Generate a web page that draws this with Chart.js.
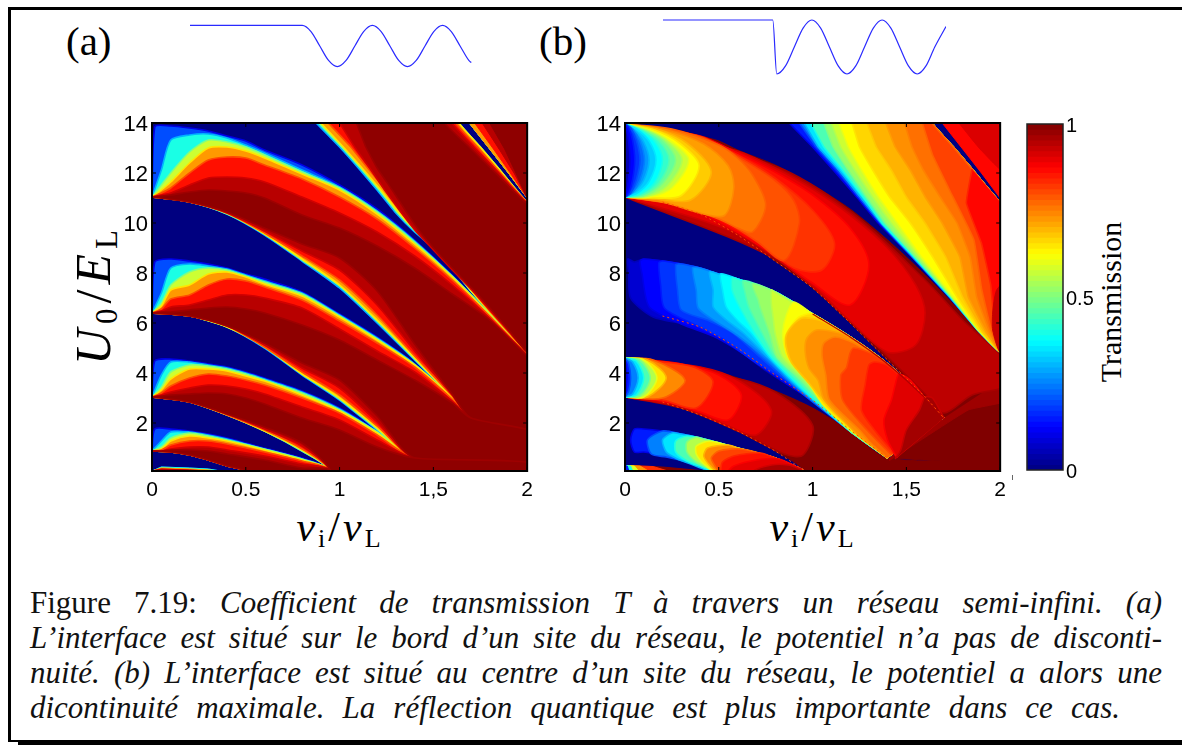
<!DOCTYPE html>
<html><head><meta charset="utf-8">
<script src="https://cdn.jsdelivr.net/npm/chart.js@4"></script>
<style>
html,body{margin:0;padding:0;background:#fff;width:1182px;height:747px;overflow:hidden}
canvas{position:absolute}
.t{position:absolute;font-family:"Liberation Serif",serif;color:#000;white-space:nowrap;line-height:1}
.cap{position:absolute;left:30px;width:1132px;font-family:"Liberation Serif",serif;font-size:31px;line-height:34px;color:#111;text-align:justify;text-align-last:justify}
.bk{position:absolute;background:#000}
sub{font-size:62%;font-style:normal;vertical-align:-0.22em;line-height:0}
</style></head><body>
<div class="bk" style="left:8px;top:7px;width:1174px;height:3px"></div>
<div class="bk" style="left:8px;top:7px;width:3px;height:735px"></div>
<div class="bk" style="left:8px;top:740px;width:1174px;height:2px"></div>
<div class="bk" style="left:18px;top:742px;width:1164px;height:3px"></div>
<div class="bk" style="left:1012px;top:475px;width:1px;height:5px;background:#666"></div>

<div class="t" style="left:66px;top:21px;font-size:41px">(a)</div>
<div class="t" style="left:539px;top:21px;font-size:41px">(b)</div>
<div class="t" style="left:93px;top:295px;font-size:50px;letter-spacing:5px;transform:translate(-50%,-50%) rotate(-90deg)"><i>U</i><sub>0</sub>/<i>E</i><sub>L</sub></div>
<div class="t" style="left:340px;top:527px;font-size:42px;letter-spacing:3px;transform:translate(-50%,-50%)"><i>v</i><sub>i</sub>/<i>v</i><sub>L</sub></div>
<div class="t" style="left:813px;top:527px;font-size:42px;letter-spacing:3px;transform:translate(-50%,-50%)"><i>v</i><sub>i</sub>/<i>v</i><sub>L</sub></div>
<div class="t" style="left:1111px;top:302px;font-size:30px;transform:translate(-50%,-50%) rotate(-90deg)">Transmission</div>

<div class="cap" style="top:586px">Figure 7.19: <i>Coefficient de transmission T à travers un réseau semi-infini. (a)</i></div>
<div class="cap" style="top:621px"><i>L’interface est situé sur le bord d’un site du réseau, le potentiel n’a pas de disconti-</i></div>
<div class="cap" style="top:656px"><i>nuité. (b) L’interface est situé au centre d’un site du réseau, le potentiel a alors une</i></div>
<div class="cap" style="top:691px;width:1090px"><i>dicontinuité maximale. La réflection quantique est plus importante dans ce cas.</i></div>

<canvas id="potA" width="282" height="52" style="left:190px;top:20px"></canvas>
<canvas id="potB" width="283" height="68" style="left:663px;top:13px"></canvas>
<canvas id="panelA" width="440" height="420" style="left:100px;top:100px"></canvas>
<canvas id="panelB" width="440" height="420" style="left:573px;top:100px"></canvas>
<canvas id="cbar" width="110" height="400" style="left:1000px;top:100px"></canvas>

<script>
/* ---------- tick labels ---------- */
const xTickValues=[0,.5,1,1.5,2];
const xTickLabels=["0","0.5","1","1,5","2"];
const yTickValues=[2,4,6,8,10,12,14];
const cbarTickValues=[0,.5,1];
const cbarTickLabels=["0","0.5","1"];

/* ---------- potential sketches ---------- */
const potAX=[-1.6,0,.125,.25,.375,.5,.625,.75,.875,1,1.125,1.25,1.375,1.5,1.625,1.75,1.875,2,2.125,2.25,2.375,2.41];
const potAY=[1,1,.85,.5,.15,0,.15,.5,.85,1,.85,.5,.15,0,.15,.5,.85,1,.85,.5,.15,.1];
const potBX=[-1.62,-.057,0,.125,.25,.375,.5,.625,.75,.875,1,1.125,1.25,1.375,1.5,1.625,1.75,1.875,2,2.125,2.25,2.41];
const potBY=[1,1,0,.15,.5,.85,1,.85,.5,.15,0,.15,.5,.85,1,.85,.5,.15,0,.15,.5,.88];

/* ---------- iso-transmission contours, panel (a) ---------- */
const aLevels=[.1,.3,.5,.65,.8,.92,.97];

const aLobe1X=[0,.05,.1,.2,.3,.4,.5,.6,.8,1,1.2,1.4,1.6,1.8,2,2.05];
const aLobe1Up10=[11.04,13.84,13.88,13.8,13.68,13.48,13.28,12.92,12.32,11.52,10.56,9.32,7.92,6.36,4.76,4.36];
const aLobe1Up30=[11.04,12.12,13.32,13.52,13.56,13.4,13.12,12.8,12.12,11.44,10.48,9.28,7.88,6.36,4.76,4.36];
const aLobe1Up50=[11.04,11.52,12,12.84,13.32,13.24,13.04,12.72,12.04,11.4,10.44,9.24,7.88,6.36,4.76,4.36];
const aLobe1Up65=[11.04,11.32,11.64,12.4,13,13.04,12.88,12.6,11.96,11.32,10.36,9.16,7.84,6.32,4.76,4.36];
const aLobe1Up80=[11.04,11.2,11.4,12,12.52,12.64,12.6,12.32,11.76,11.04,10.16,9,7.72,6.28,4.72,4.36];
const aLobe1Up92=[11.04,11.12,11.2,11.52,11.8,11.84,11.8,11.64,11.04,10.4,9.64,8.68,7.52,6.2,4.72,4.36];
const aLobe1Up97=[11.04,11.08,11.12,11.24,11.32,11.28,11.2,11,10.32,9.8,9.08,8.2,7.16,6.12,4.68,4.36];
const aLobe1LowX=[0,.2,.4,.6,.8,1,1.2,1.4,1.6,1.7];
const aLobe1LowEdge=[11.04,10.84,10.36,9.52,8.48,7.4,6,4.52,3.04,2.2];
const aLobe1Low50=[11.04,10.84,10.36,9.56,8.52,7.48,6.08,4.56,3.04,2.2];
const aLobe1Low65=[11.04,10.84,10.4,9.56,8.56,7.52,6.12,4.6,3.04,2.2];
const aLobe1Low80=[11.04,10.84,10.4,9.6,8.68,7.72,6.32,4.68,3.08,2.2];
const aLobe1Low92=[11.04,10.84,10.4,9.68,8.88,8.12,6.72,4.88,3.12,2.2];
const aLobe1Low97=[11.04,10.84,10.44,9.8,9.16,8.6,7.28,5.16,3.16,2.2];

const aLobe2X=[0,.05,.1,.2,.3,.4,.5,.6,.8,1,1.2,1.4,1.6,1.7];
const aLobe2Up10=[6.4,8.44,8.56,8.48,8.36,8.2,7.96,7.76,7.24,6.36,5.44,4.36,3,2.2];
const aLobe2Up30=[6.4,7.2,8.2,8.36,8.28,8.16,7.92,7.68,7.2,6.32,5.4,4.36,3,2.2];
const aLobe2Up50=[6.4,6.8,7.52,8.04,8.2,8.12,7.88,7.64,7.16,6.28,5.36,4.32,3,2.2];
const aLobe2Up65=[6.4,6.68,7.32,7.52,7.96,8.04,7.84,7.56,7.08,6.24,5.32,4.32,3,2.2];
const aLobe2Up80=[6.4,6.56,6.96,7.12,7.52,7.76,7.68,7.44,6.92,6.08,5.2,4.24,2.96,2.2];
const aLobe2Up92=[6.4,6.48,6.64,6.72,6.92,7.12,7.12,7,6.6,5.76,4.88,4.04,2.88,2.2];
const aLobe2Up97=[6.4,6.44,6.44,6.52,6.6,6.64,6.56,6.4,5.92,5.32,4.52,3.72,2.8,2.2];
const aLobe2LowX=[0,.2,.4,.6,.8,1,1.2,1.4];
const aLobe2LowEdge=[6.4,6.28,5.84,5,3.92,2.92,1.72,.6];
const aLobe2Low50=[6.4,6.28,5.84,5.04,3.96,2.96,1.76,.6];
const aLobe2Low65=[6.4,6.28,5.84,5.04,3.96,3,1.8,.6];
const aLobe2Low80=[6.4,6.28,5.88,5.04,4.04,3.12,1.88,.6];
const aLobe2Low92=[6.4,6.28,5.88,5.12,4.2,3.4,2.04,.6];
const aLobe2Low97=[6.4,6.28,5.88,5.2,4.4,3.72,2.28,.6];

const aLobe3X=[0,.05,.1,.2,.3,.4,.5,.6,.8,1,1.2,1.4];
const aLobe3Up10=[3.04,4.48,4.56,4.48,4.36,4.24,4.04,3.8,3.28,2.6,1.68,.6];
const aLobe3Up30=[3.04,3.92,4.44,4.44,4.32,4.2,4,3.76,3.24,2.56,1.64,.6];
const aLobe3Up50=[3.04,3.44,4.04,4.32,4.28,4.16,3.96,3.72,3.2,2.52,1.64,.6];
const aLobe3Up65=[3.04,3.32,3.76,4.16,4.16,4.08,3.88,3.68,3.12,2.48,1.6,.6];
const aLobe3Up80=[3.04,3.2,3.48,3.8,3.96,3.88,3.72,3.52,3,2.4,1.52,.6];
const aLobe3Up92=[3.04,3.12,3.24,3.4,3.52,3.48,3.36,3.16,2.64,2.12,1.32,.6];
const aLobe3Up97=[3.04,3.08,3.12,3.16,3.2,3.16,3,2.76,2.2,1.72,1.04,.6];
const aLobe3LowX=[0,.2,.4,.6,.8,.95];
const aLobe3LowEdge=[3.04,2.84,2.32,1.68,.88,.12];
const aLobe3Low65=[3.04,2.84,2.32,1.68,.92,.12];
const aLobe3Low80=[3.04,2.84,2.32,1.72,.96,.12];
const aLobe3Low92=[3.04,2.84,2.36,1.76,1.08,.12];
const aLobe3Low97=[3.04,2.84,2.36,1.84,1.2,.12];

const aLobe4X=[0,.05,.1,.2,.3,.4,.6,.8,.95];
const aLobe4Up10=[.88,1.76,1.76,1.68,1.56,1.4,1,.6,.12];
const aLobe4Up30=[.88,1.28,1.64,1.64,1.52,1.36,.96,.56,.12];
const aLobe4Up50=[.88,1.04,1.4,1.6,1.48,1.32,.96,.56,.12];
const aLobe4Up65=[.88,.96,1.28,1.48,1.4,1.28,.92,.52,.12];
const aLobe4Up80=[.88,.92,1.12,1.28,1.28,1.16,.84,.48,.12];
const aLobe4Up92=[.88,.88,.96,1.04,1.04,.92,.68,.36,.12];
const aLobe4Up97=[.88,.88,.92,.92,.88,.76,.52,.2,.12];
const aLobe4LowX=[0,.1,.2,.3,.4,.5];
const aLobe4LowEdge=[.88,.84,.72,.52,.28,.04];

const aLobe5X=[0,.05,.2,.3,.4];
const aLobe5Up10=[.08,.24,.2,.16,.04];
const aLobe5Up50=[.08,.2,.16,.12,.04];
const aLobe5Up80=[.08,.16,.12,.08,.04];
const aLobe5Up97=[.06,.1,.08,.06,.04];

const sepY=[14,13.04,12.2,11.32,10.4,9.64,9,8.2,7.28,6.44,5.64,4.84];
const sepEdgeX=[.875,1,1.1,1.2,1.3,1.4,1.5,1.6,1.7,1.8,1.9,2];
const sepX50=[.89,1.012,1.112,1.212,1.31,1.408,1.505,1.603,1.7,1.8,1.9,2];
const sepX65=[.9,1.02,1.12,1.22,1.318,1.415,1.51,1.608,1.703,1.8,1.9,2];
const sepX80=[.94,1.06,1.15,1.245,1.335,1.43,1.525,1.62,1.71,1.805,1.9,2];
const sepX92=[1,1.08,1.16,1.24,1.33,1.41,1.49,1.59,1.71,1.81,1.905,2];
const sepX97=[1.09,1.14,1.2,1.28,1.36,1.43,1.5,1.6,1.72,1.82,1.91,2];

const gapLowY=[14,13.04,12.16,10.84];
const gapLowEdgeX=[1.637,1.75,1.85,2];
const gapLowX80=[1.62,1.735,1.84,2];
const gapLowX92=[1.6,1.715,1.83,1.995];
const gapLowX97=[1.56,1.69,1.81,1.99];
const gapUpY=[14,12.96,12,11];
const gapUpEdgeX=[1.691,1.8,1.9,2];
const gapUpX80=[1.72,1.82,1.91,2];
const gapUpX92=[1.76,1.85,1.93,2];
const gapUpX97=[1.8,1.88,1.94,2];

/* ---------- iso-transmission contours, panel (b): [v, U] points ---------- */
const bLens1Levels=[.96,.92,.88,.84,.81,.78,.74,.7,.65,.6,.55,.5,.45,.4,.35,.3,.25,.2,.15,.1];
const bLens1=[
 [[0,13.96],[.8,12.28],[1.2,10.48],[1.6,7.72],[1.8,6.12],[2.05,4.32],[2.05,3.52],[1.85,3.12],[1.7,2.4],[1.6,3.16],[1.2,6.08],[.8,8.56],[0,11.04]],
 [[0,13.96],[.6,12.88],[.8,12.2],[1,11.36],[1.2,10.32],[1.4,9],[1.55,7.52],[1.6,6.4],[1.55,5.12],[1.4,4.84],[1.2,6.08],[1,7.48],[.6,9.56],[0,11.04]],
 [[0,13.96],[.4,13.48],[.6,12.8],[.8,12.04],[1,11.12],[1.2,9.8],[1.3,8.32],[1.2,6.72],[1,7.6],[.8,8.68],[.6,9.64],[.4,10.44],[.2,10.88],[0,11.04]],
 [[0,13.96],[.4,13.44],[.6,12.72],[.8,11.8],[1,10.52],[1.117,9.2],[1.05,8.12],[.9,8.2],[.7,9.32],[.5,10.24],[.25,10.8],[0,11.04]],
 [[0,13.96],[.4,13.46],[.6,12.66],[.8,11.7],[.9,10.9],[.93,10],[.85,8.5],[.7,9.28],[.5,10.2],[.25,10.8],[0,11.04]],
 [[0,13.96],[.25,13.76],[.5,13.12],[.6,12.6],[.68,11.92],[.75,10.72],[.68,9.64],[.6,9.8],[.5,10.16],[.25,10.76],[0,11.04]],
 [[0,13.96],[.2,13.76],[.42,13.16],[.55,12.3],[.58,11.4],[.53,10.3],[.4,10.4],[.2,10.84],[0,11.04]],
 [[0,13.96],[.17,13.76],[.33,13.2],[.46,12.04],[.35,10.92],[.17,10.96],[0,11.04]],
 [[0,13.96],[.15,13.74],[.29,13.2],[.395,12.3],[.3,11.1],[.15,11],[0,11.04]],
 [[0,13.96],[.13,13.72],[.25,13.24],[.34,12.52],[.25,11.4],[.13,11.04],[0,11.04]],
 [[0,13.96],[.115,13.72],[.225,13.28],[.305,12.52],[.225,11.48],[.115,11.06],[0,11.04]],
 [[0,13.96],[.1,13.72],[.2,13.32],[.27,12.52],[.2,11.56],[.1,11.08],[0,11.04]],
 [[0,13.96],[.09,13.72],[.18,13.28],[.235,12.52],[.18,11.6],[.09,11.12],[0,11.04]],
 [[0,13.96],[.08,13.72],[.16,13.24],[.2,12.52],[.16,11.64],[.08,11.16],[0,11.04]],
 [[0,13.96],[.065,13.74],[.13,13.26],[.165,12.52],[.13,11.68],[.065,11.2],[0,11.04]],
 [[0,13.96],[.05,13.72],[.1,13.24],[.128,12.52],[.1,11.72],[.05,11.24],[0,11.04]],
 [[0,13.96],[.04,13.76],[.08,13.28],[.104,12.52],[.08,11.72],[.04,11.22],[0,11.04]],
 [[0,13.96],[.03,13.8],[.06,13.32],[.08,12.52],[.06,11.72],[.03,11.2],[0,11.04]],
 [[0,13.96],[.02,13.8],[.04,13.32],[.052,12.52],[.04,11.72],[.02,11.2],[0,11.04]],
 [[0,13.96],[.015,13.52],[.027,12.52],[.015,11.52],[0,11.04]]
];
const bLens3Levels=[.96,.92,.88,.84,.78,.7,.6,.5,.4,.3,.2,.1];
const bLens3=[
 [[0,4.6],[.6,3.78],[.8,3.24],[1,1.92],[.95,.72],[.85,.76],[.6,1.68],[.3,2.6],[0,3.04]],
 [[0,4.6],[.4,4.24],[.6,3.72],[.78,2.52],[.7,1.52],[.55,1.88],[.3,2.64],[0,3.04]],
 [[0,4.6],[.3,4.36],[.5,3.92],[.62,3.12],[.55,2.12],[.4,2.44],[.2,2.88],[0,3.04]],
 [[0,4.6],[.25,4.4],[.38,4.2],[.47,3.64],[.38,2.6],[.2,2.92],[0,3.04]],
 [[0,4.6],[.15,4.52],[.32,3.72],[.2,3],[0,3.04]],
 [[0,4.6],[.12,4.52],[.22,3.8],[.12,3.04],[0,3.04]],
 [[0,4.6],[.1,4.52],[.17,3.8],[.1,3.04],[0,3.04]],
 [[0,4.6],[.08,4.52],[.135,3.8],[.08,3.08],[0,3.04]],
 [[0,4.6],[.06,4.48],[.1,3.8],[.06,3.12],[0,3.04]],
 [[0,4.6],[.04,4.44],[.07,3.8],[.04,3.16],[0,3.04]],
 [[0,4.6],[.02,4.36],[.03,3.8],[.02,3.28],[0,3.04]],
 [[0,4.6],[.01,3.8],[0,3.04]]
];
const bLens5Levels=[.88,.78,.68,.5,.3];
const bLens5=[
 [[0,.3],[.15,.26],[.22,.1],[.22,-1],[0,-1]],
 [[0,.3],[.08,.28],[.12,.1],[.12,-1],[0,-1]],
 [[0,.3],[.05,.28],[.07,.1],[.07,-1],[0,-1]],
 [[0,.3],[.03,.28],[.04,.1],[.04,-1],[0,-1]],
 [[0,.3],[.012,.28],[.02,.1],[.02,-1],[0,-1]]
];
const bBase5=[[0,.3],[.2,.24],[.4,.1],[.42,0],[.42,-1],[0,-1]];

const bLobe2Levels=[.06,.1,.15,.2,.25,.3,.35,.4,.45,.5,.55,.6,.64,.68,.72,.75,.8,.84,.88,.93];
const bLobe2=[
 [[.015,8.56],[.02,8],[.03,7],[.15,6.24],[.35,5.9],[.55,5.2],[.75,4.1],[1,2.88],[1.2,1.68]],
 [[.08,8.48],[.09,8],[.13,6.64],[.3,5.96],[.48,5.44],[.65,4.68],[.8,3.88],[1,2.88],[1.2,1.68]],
 [[.18,8.4],[.19,7.5],[.21,6.6],[.38,5.9],[.52,5.36],[.7,4.4],[.85,3.7],[1,2.88],[1.2,1.68]],
 [[.27,8.32],[.28,7.32],[.3,6.52],[.45,6.08],[.575,5.6],[.72,4.64],[.86,3.72],[1,2.84],[1.2,1.68]],
 [[.36,8.2],[.38,7.3],[.39,6.6],[.48,6.08],[.6,5.5],[.75,4.6],[.87,3.72],[1.01,2.84],[1.2,1.68]],
 [[.45,8.04],[.47,7.32],[.47,6.64],[.54,6.12],[.63,5.6],[.76,4.64],[.88,3.72],[1.02,2.8],[1.2,1.68]],
 [[.51,7.96],[.52,7.32],[.54,6.64],[.6,6.1],[.67,5.6],[.77,4.64],[.89,3.72],[1.03,2.76],[1.2,1.68]],
 [[.57,7.8],[.57,7.32],[.61,6.64],[.69,5.6],[.78,4.64],[.9,3.72],[1.04,2.72],[1.2,1.68]],
 [[.63,7.7],[.64,7.2],[.66,6.64],[.73,5.6],[.8,4.64],[.92,3.72],[1.05,2.72],[1.2,1.68]],
 [[.68,7.56],[.71,6.92],[.72,6.64],[.77,5.6],[.81,4.64],[.94,3.72],[1.06,2.72],[1.2,1.68]],
 [[.78,7.32],[.78,6.8],[.79,6.2],[.8,5.6],[.84,4.64],[.96,3.72],[1.07,2.68],[1.21,1.66]],
 [[.9,6.84],[.86,6.32],[.84,5.6],[.85,5.04],[.87,4.64],[.97,3.72],[1.08,2.6],[1.22,1.64]],
 [[.97,6.36],[.92,6.2],[.87,5.7],[.85,5.3],[.86,4.8],[.88,4.5],[.975,3.66],[1.06,2.7],[1.23,1.56]],
 [[1.05,6.08],[.95,6.2],[.9,5.96],[.86,5.52],[.86,5.04],[.89,4.4],[.98,3.6],[1.04,3.04],[1.1,2.52],[1.25,1.48]],
 [[1.12,5.64],[1.02,5.72],[.97,5.4],[.96,4.9],[.98,4.2],[1.03,3.7],[1.06,2.96],[1.2,1.84],[1.26,1.4]],
 [[1.22,5.2],[1.12,5.44],[1.06,5.2],[1.05,4.7],[1.07,3.92],[1.09,2.92],[1.25,1.72],[1.31,1.2]],
 [[1.32,4.76],[1.22,5],[1.2,4.8],[1.18,4.2],[1.15,3.92],[1.16,2.92],[1.29,1.72],[1.42,.72]],
 [[1.4,4.3],[1.33,4.44],[1.3,4.32],[1.28,3.52],[1.26,2.52],[1.33,1.72],[1.44,.72]],
 [[1.52,3.72],[1.46,3.96],[1.44,3.52],[1.42,2.92],[1.38,2.12],[1.4,1.32],[1.45,.6]],
 [[1.64,3],[1.6,3.04],[1.57,2.52],[1.5,1.72],[1.47,.92],[1.44,.56]]
];
const bLobe4Levels=[.1,.2,.3,.4,.5,.6,.7,.78,.84,.88,.92];
const bLobe4=[
 [[.05,1.76],[.03,1.32],[.05,.84]],
 [[.2,1.68],[.12,1.32],[.14,.76],[.22,.64],[.31,.48],[.41,.24]],
 [[.25,1.6],[.2,1.32],[.22,.84],[.28,.56],[.35,.36],[.45,.08]],
 [[.33,1.48],[.27,1.28],[.27,.84],[.33,.48],[.41,.24],[.48,.04]],
 [[.38,1.44],[.33,1.24],[.33,.84],[.38,.44],[.45,.16],[.49,.04]],
 [[.45,1.28],[.38,1.08],[.38,.76],[.42,.36],[.48,.04]],
 [[.55,1.12],[.44,1],[.42,.68],[.45,.32],[.49,.04]],
 [[.62,.96],[.5,.88],[.46,.6],[.48,.28],[.5,.04]],
 [[.72,.8],[.58,.68],[.52,.44],[.51,.04]],
 [[.82,.56],[.7,.52],[.58,.28],[.55,.04]],
 [[.87,.32],[.78,.32],[.68,.04]]
];
const bLobe0Levels=[.1,.2,.3,.4,.5,.55,.6,.65,.68,.72,.75];
const bLobe0Y=[14,13.04,12.12,11.04,10,8.64,7.04,5.72,4.84];
const bLobe0=[
 [.875,1,1.11,1.235,1.35,1.53,1.73,1.88,2],
 [.93,1.02,1.13,1.245,1.36,1.53,1.73,1.88,2],
 [.955,1.03,1.14,1.255,1.365,1.535,1.73,1.88,2],
 [.99,1.06,1.16,1.27,1.37,1.54,1.735,1.88,2],
 [1.06,1.11,1.19,1.29,1.39,1.55,1.74,1.88,2],
 [1.1,1.15,1.225,1.32,1.42,1.565,1.745,1.885,2],
 [1.14,1.19,1.26,1.35,1.45,1.58,1.75,1.885,2],
 [1.21,1.25,1.32,1.41,1.52,1.64,1.77,1.89,2],
 [1.29,1.34,1.42,1.5,1.6,1.71,1.8,1.9,2],
 [1.39,1.44,1.52,1.6,1.69,1.785,1.83,1.92,2],
 [1.49,1.53,1.59,1.68,1.77,1.84,1.875,1.94,2]
];
const bLobe0T78=[[1.585,14],[1.64,12.72],[1.73,11.32],[1.86,9.32],[1.9,7.4],[1.95,5.8],[2,4.86]];
const bLobe0T84=[[1.85,12.16],[1.82,10.8],[1.9,9.2],[1.95,7.5],[1.97,5.8],[2,4.9]];
const bLobe0T90=[[2.05,7.9],[1.98,7.3],[1.96,6.4],[1.96,5.72],[2,4.84],[2.1,4.84],[2.1,7.9]];
const bTail97=[[1.7,2.2],[1.41,.6],[1.41,.5],[1.83,2.52],[2.05,2.9],[2.05,3.92]];
const bCorner=[[1.78,14],[1.9,12.9],[2.05,11.9],[2.05,15],[1.78,15]];

/* ---------- helpers ---------- */
const clamp=v=>Math.max(0,Math.min(1,v));
function jet(t){
  const r=clamp(Math.min(4*t-1.5,-4*t+4.5)),g=clamp(Math.min(4*t-.5,-4*t+3.5)),b=clamp(Math.min(4*t+.5,-4*t+2.5));
  return `rgb(${Math.round(r*255)},${Math.round(g*255)},${Math.round(b*255)})`;
}
const zip=(xs,ys)=>xs.map((x,i)=>[x,ys[i]]);
const zipNose=(xs,ys,lv)=>xs.map((x,i)=>[(lv===0&&i===1)?.015:x,ys[i]]);
const rev=a=>a.slice().reverse();
const T=.25;
function poly(pts,color,tension,edge){
  return {data:pts.map(p=>({x:p[0],y:p[1]})),showLine:true,fill:'shape',backgroundColor:color,borderColor:edge||color,borderWidth:edge?1.6:1,pointRadius:0,tension:tension===undefined?T:tension};
}
function stroke(pts,color,w,dash){
  return {data:pts.map(p=>({x:p[0],y:p[1]})),showLine:true,fill:false,borderColor:color,borderWidth:w,borderDash:dash||[],pointRadius:0,tension:.2};
}
const finish=list=>list.map((d,i)=>Object.assign(d,{order:list.length-i}));
const band=(levels,i)=>jet((levels[i]+(i+1<levels.length?levels[i+1]:1))/2);

/* ---------- panel (a) layers ---------- */
const aRows1=[aLobe1Up10,aLobe1Up30,aLobe1Up50,aLobe1Up65,aLobe1Up80,aLobe1Up92,aLobe1Up97];
const aRows1L=[aLobe1LowEdge,aLobe1LowEdge,aLobe1Low50,aLobe1Low65,aLobe1Low80,aLobe1Low92,aLobe1Low97];
const aRows2=[aLobe2Up10,aLobe2Up30,aLobe2Up50,aLobe2Up65,aLobe2Up80,aLobe2Up92,aLobe2Up97];
const aRows2L=[aLobe2LowEdge,aLobe2LowEdge,aLobe2Low50,aLobe2Low65,aLobe2Low80,aLobe2Low92,aLobe2Low97];
const aRows3=[aLobe3Up10,aLobe3Up30,aLobe3Up50,aLobe3Up65,aLobe3Up80,aLobe3Up92,aLobe3Up97];
const aRows3L=[aLobe3LowEdge,aLobe3LowEdge,aLobe3LowEdge,aLobe3Low65,aLobe3Low80,aLobe3Low92,aLobe3Low97];
const aRows4=[aLobe4Up10,aLobe4Up30,aLobe4Up50,aLobe4Up65,aLobe4Up80,aLobe4Up92,aLobe4Up97];
const aRows5=[aLobe5Up10,aLobe5Up10,aLobe5Up50,aLobe5Up50,aLobe5Up80,aLobe5Up80,aLobe5Up97];
const aSep=[sepEdgeX,sepEdgeX,sepX50,sepX65,sepX80,sepX92,sepX97];
const aGapL=[gapLowEdgeX,gapLowEdgeX,gapLowEdgeX,gapLowEdgeX,gapLowX80,gapLowX92,gapLowX97];
const aGapU=[gapUpEdgeX,gapUpEdgeX,gapUpEdgeX,gapUpEdgeX,gapUpX80,gapUpX92,gapUpX97];
const aSets=[];
aLevels.forEach((lv,i)=>{
  const c=band(aLevels,i), e=jet(lv);
  aSets.push(poly(zipNose(aLobe1X,aRows1[i],i).concat([[2.1,4.3],[2.1,1.5]],rev(zip(aLobe1LowX,aRows1L[i]))),c,T,e));
  aSets.push(poly(zipNose(aLobe2X,aRows2[i],i).concat([[2.1,1.5],[2.1,.3]],rev(zip(aLobe2LowX,aRows2L[i]))),c,T,e));
  aSets.push(poly(zipNose(aLobe3X,aRows3[i],i).concat([[2.1,.3],[2.1,-1],[.95,-1]],rev(zip(aLobe3LowX,aRows3L[i]))),c,T,e));
  aSets.push(poly(zipNose(aLobe4X,aRows4[i],i).concat([[.96,-1],[.5,-1]],rev(zip(aLobe4LowX,aLobe4LowEdge))),c,T,e));
  aSets.push(poly(zip(aLobe5X,aRows5[i]).concat([[.4,-1],[0,-1]]),c,0));
  const sep=zip(aSep[i],sepY);
  aSets.push(poly(sep.concat([[2.1,4.84],[2.1,10.9]],rev(zip(aGapL[i],gapLowY)),[[aGapL[i][0],15],[aSep[i][0],15]]),c,.1,e));
  aSets.push(poly(zip(aGapU[i],gapUpY).concat([[2.1,10.9],[2.1,15],[aGapU[i][0],15]]),c,0));
});

/* ---------- panel (b) layers ---------- */
const dark=jet(1);
const u1Edge=[[0,13.96]].concat(zip(aLobe1X,aLobe1Up10).slice(2));
const l1Edge=zip(aLobe1LowX,aLobe1LowEdge);
const u2Edge=zip(aLobe2X,aLobe2Up10).slice(1);
const l2Edge=zip(aLobe2LowX,aLobe2LowEdge);
const u3Edge=[[0,4.6]].concat(zip(aLobe3X,aLobe3Up10).slice(2));
const l3Edge=zip(aLobe3LowX,aLobe3LowEdge);
const u4Edge=zip(aLobe4X,aLobe4Up10).slice(1);
const l4Edge=zip(aLobe4LowX,aLobe4LowEdge);
const bSets=[];
bSets.push(poly(u1Edge.concat([[2.1,4.3],[2.1,1.5]],rev(l1Edge)),dark));
bSets.push(poly([[1.7,2.2],[2.1,1.5],[2.1,.3],[1.41,.6]],dark,0));
bSets.push(poly(u3Edge.concat([[2.1,.3],[2.1,-1],[.95,-1]],rev(l3Edge)),dark));
bSets.push(poly(bBase5,dark,0));
bSets.push(poly(bTail97,jet(.97),.1));
bLens1Levels.forEach((lv,i)=>{
  const next=i+1<bLens1Levels.length?bLens1Levels[i+1]:0;
  bSets.push(poly(bLens1[i],jet((lv+next)/2),.3,jet(lv)));
});
bLens3Levels.forEach((lv,i)=>{
  const next=i+1<bLens3Levels.length?bLens3Levels[i+1]:0;
  bSets.push(poly(bLens3[i],jet((lv+next)/2),.3,jet(lv)));
});
bLens5Levels.forEach((lv,i)=>{
  const next=i+1<bLens5Levels.length?bLens5Levels[i+1]:0;
  bSets.push(poly(bLens5[i],jet((lv+next)/2),0));
});
bLobe2.forEach((ct,i)=>{
  const x0=ct[0][0],x1=ct[ct.length-1][0];
  const up=rev(u2Edge.filter(p=>p[0]>x0));
  const lo=l2Edge.filter(p=>p[0]>x1);
  bSets.push(poly(up.concat(ct,lo),band(bLobe2Levels,i),.25,jet(bLobe2Levels[i])));
});
bLobe4.forEach((ct,i)=>{
  const x0=ct[0][0],x1=ct[ct.length-1][0];
  const up=rev(u4Edge.filter(p=>p[0]>x0));
  const lo=l4Edge.filter(p=>p[0]>x1);
  bSets.push(poly(up.concat(ct,lo,[[lo.length?lo[lo.length-1][0]:x1,-1],[.96,-1]]),band(bLobe4Levels,i),.25,jet(bLobe4Levels[i])));
});
const gapClose=[[2.1,4.84],[2.1,10.9]].concat(rev(zip(gapLowEdgeX,gapLowY)));
bLobe0.forEach((row,i)=>{
  const next=i+1<bLobe0Levels.length?bLobe0Levels[i+1]:.78;
  bSets.push(poly(zip(row,bLobe0Y).concat(gapClose,[[gapLowEdgeX[0],15],[row[0],15]]),jet((bLobe0Levels[i]+next)/2),.1,jet(bLobe0Levels[i])));
});
bSets.push(poly(bLobe0T78.concat([[2.1,4.86],[2.1,10.9]],rev(zip(gapLowEdgeX,gapLowY)),[[gapLowEdgeX[0],15],[bLobe0T78[0][0],15]]),jet(.81),.1,jet(.78)));
bSets.push(poly(bLobe0T84.concat([[2.1,4.9],[2.1,10.9],[2,10.84]]),jet(.87),.1,jet(.84)));
bSets.push(poly(bLobe0T90,jet(.93),.2));
bSets.push(poly(zip(gapUpEdgeX,gapUpY).concat([[2.1,10.9],[2.1,15],[gapUpEdgeX[0],15]]),jet(.87),0));
bSets.push(poly(bCorner,jet(.91),.2));
/* dark rims on the sharp band edges */
bSets.push(stroke(u2Edge.filter(p=>p[0]>=1),jet(.95),1.2));
bSets.push(stroke(l1Edge.filter(p=>p[0]>=.1),jet(.8),1,[2,3]));
bSets.push(stroke(l2Edge.filter(p=>p[0]>=.1),jet(.8),1,[2,3]));
bSets.push(stroke(l3Edge.filter(p=>p[0]>=.1),jet(.8),1,[2,3]));

/* ---------- chart plumbing ---------- */
const frame={id:'frame',
 beforeDatasetsDraw(c){const o=c.options.plugins.frame;if(!o||!o.bg)return;const a=c.chartArea;c.ctx.save();c.ctx.fillStyle=o.bg;c.ctx.fillRect(a.left,a.top,a.width,a.height);c.ctx.restore();},
 afterDatasetsDraw(c){const a=c.chartArea,g=c.ctx,sx=c.scales.x,sy=c.scales.y;
  g.save();g.strokeStyle='#000';g.lineWidth=1;g.beginPath();
  sx.ticks.forEach(t=>{const p=sx.getPixelForValue(t.value);g.moveTo(p,a.bottom);g.lineTo(p,a.bottom-4);g.moveTo(p,a.top);g.lineTo(p,a.top+4);});
  sy.ticks.forEach(t=>{const p=sy.getPixelForValue(t.value);g.moveTo(a.left,p);g.lineTo(a.left+4,p);g.moveTo(a.right,p);g.lineTo(a.right-4,p);});
  g.stroke();g.lineWidth=2;g.strokeRect(a.left,a.top,a.width,a.height);g.restore();}
};
function panel(id,sets){
  new Chart(document.getElementById(id),{type:'scatter',data:{datasets:finish(sets)},plugins:[frame],
   options:{responsive:false,animation:false,events:[],layout:{padding:{left:0,top:23,right:12,bottom:0}},
    plugins:{legend:{display:false},tooltip:{enabled:false},frame:{bg:jet(0)}},
    scales:{
     x:{type:'linear',min:0,max:2,grid:{display:false,drawTicks:false},border:{display:false},
        afterBuildTicks:s=>{s.ticks=xTickValues.map(v=>({value:v}));},afterFit:s=>{s.height=49;},
        ticks:{padding:7,color:'#000',font:{family:'Liberation Sans',size:21},autoSkip:false,maxRotation:0,callback:v=>xTickLabels[xTickValues.indexOf(v)]}},
     y:{type:'linear',min:.08,max:14,grid:{display:false,drawTicks:false},border:{display:false},
        afterBuildTicks:s=>{s.ticks=yTickValues.map(v=>({value:v}));},afterFit:s=>{s.width=52;},
        ticks:{padding:4,labelOffset:2,color:'#000',font:{family:'Liberation Sans',size:22},autoSkip:false}}
    }}});
}
panel('panelA',aSets);
panel('panelB',bSets);

function pot(id,xs,ys,xmin,xmax){
  new Chart(document.getElementById(id),{type:'scatter',data:{datasets:[{data:xs.map((x,i)=>({x,y:ys[i]})),showLine:true,borderColor:'#2a2aff',borderWidth:1.2,pointRadius:0,cubicInterpolationMode:'monotone',clip:false}]},
   options:{responsive:false,animation:false,events:[],layout:{padding:0},plugins:{legend:{display:false},tooltip:{enabled:false}},
    scales:{x:{type:'linear',display:false,min:xmin,max:xmax},y:{type:'linear',display:false,min:-.13,max:1.13}}}});
}
pot('potA',potAX,potAY,-1.6,2.42);
pot('potB',potBX,potBY,-1.62,2.41);

const cbarSteps=64,cbarSets=[];
for(let i=0;i<cbarSteps;i++){cbarSets.push({data:[[i/cbarSteps,(i+1.4)/cbarSteps>1?1:(i+1.4)/cbarSteps]],backgroundColor:jet((i+.5)/cbarSteps),borderWidth:0,barPercentage:1,categoryPercentage:1,grouped:false,order:-i});}
new Chart(document.getElementById('cbar'),{type:'bar',data:{labels:['T'],datasets:cbarSets},plugins:[{id:'cb',afterDatasetsDraw(c){const a=c.chartArea,g=c.ctx;g.save();g.strokeStyle='#222';g.lineWidth=1.5;g.strokeRect(a.left,a.top,a.width,a.height);g.restore();}}],
 options:{responsive:false,animation:false,events:[],layout:{padding:{left:27,top:24,right:0,bottom:30}},plugins:{legend:{display:false},tooltip:{enabled:false}},
  scales:{x:{display:false},y:{position:'right',type:'linear',min:0,max:1,grid:{display:false,drawTicks:false},border:{display:false},
    afterBuildTicks:s=>{s.ticks=cbarTickValues.map(v=>({value:v}));},afterFit:s=>{s.width=47;},
    ticks:{padding:3,labelOffset:2,color:'#000',font:{family:'Liberation Sans',size:20},callback:v=>cbarTickLabels[cbarTickValues.indexOf(v)]}}}}});
</script>
</body></html>
